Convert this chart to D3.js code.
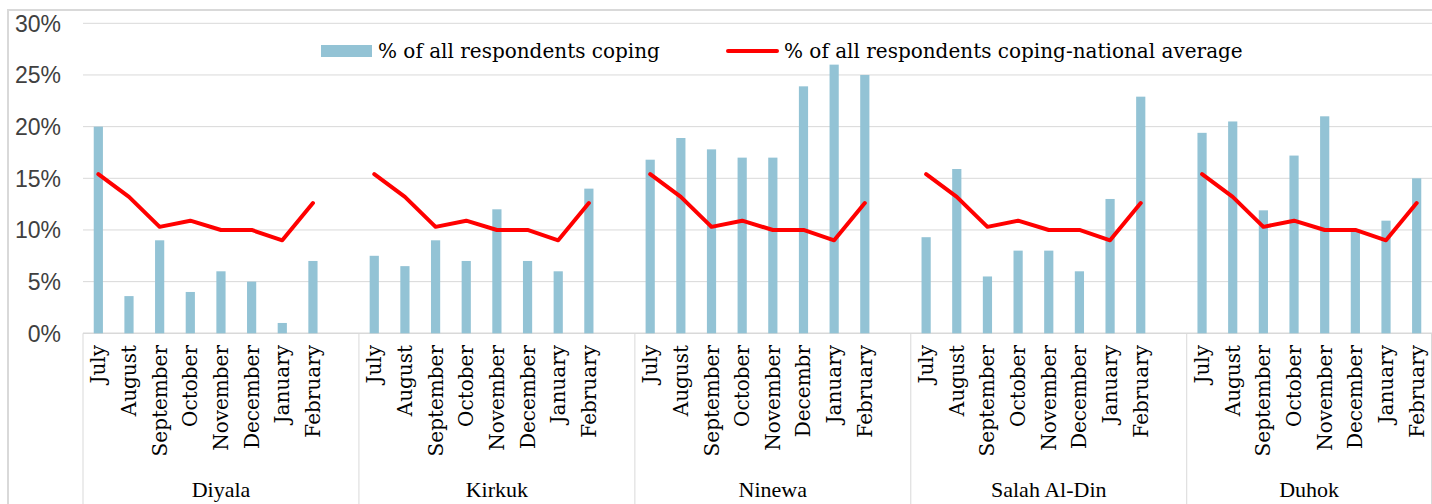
<!DOCTYPE html>
<html>
<head>
<meta charset="utf-8">
<script src="https://cdn.jsdelivr.net/npm/d3@7"></script>
<style>
  html, body { margin: 0; padding: 0; background: #fff; overflow: hidden; }
  svg { display: block; }
</style>
</head>
<body>
<div id="chart"></div>
<script>
// governorates (outer category level)
const regions = ['Diyala', 'Kirkuk', 'Ninewa', 'Salah Al-Din', 'Duhok'];

// month labels per region (Ninewa spells "Decembr" in the source)
const monthsStd = ['July', 'August', 'September', 'October', 'November', 'December', 'January', 'February'];
const monthsNinewa = ['July', 'August', 'September', 'October', 'November', 'Decembr', 'January', 'February'];
const monthLabels = [monthsStd, monthsStd, monthsNinewa, monthsStd, monthsStd];

// % of all respondents coping, per region, July..February
const diyala     = [20.0, 3.6, 9.0, 4.0, 6.0, 5.0, 1.0, 7.0];
const kirkuk     = [7.5, 6.5, 9.0, 7.0, 12.0, 7.0, 6.0, 14.0];
const ninewa     = [16.8, 18.9, 17.8, 17.0, 17.0, 23.9, 26.0, 25.0];
const salahAlDin = [9.3, 15.9, 5.5, 8.0, 8.0, 6.0, 13.0, 22.9];
const duhok      = [19.4, 20.5, 11.9, 17.2, 21.0, 10.0, 10.9, 15.0];
const coping = [diyala, kirkuk, ninewa, salahAlDin, duhok];

// national average, same for every region
const national = [15.4, 13.2, 10.3, 10.9, 10.0, 10.0, 9.0, 12.6];

const yTicks = [0, 5, 10, 15, 20, 25, 30];

const W = 1432, H = 504;
const plotLeft = 83, plotRight = 1432, plotTop = 23.3, plotBottom = 333.3;
const barColor = '#93c3d5', lineColor = '#ff0000', gridColor = '#d9d9d9';

// every region gets 8 month slots + one empty slot, except the last one
const slots = [];
regions.forEach((r, g) => {
  monthLabels[g].forEach((m, i) => slots.push(g + '|' + i));
  if (g < regions.length - 1) slots.push(g + '|gap');
});

const x = d3.scaleBand().domain(slots).range([plotLeft, plotRight]).paddingInner(0.7).paddingOuter(0.35);
const y = d3.scaleLinear().domain([0, 30]).range([plotBottom, plotTop]);

const svg = d3.select('#chart').append('svg')
  .attr('width', W)
  .attr('height', H);

// chart frame
svg.append('rect')
  .attr('x', 8).attr('y', 10)
  .attr('width', W + 20).attr('height', H + 20)
  .attr('fill', '#fff')
  .attr('stroke', gridColor)
  .attr('stroke-width', 2);

// gridlines
svg.append('g').selectAll('line')
  .data(yTicks.filter(d => d > 0))
  .enter().append('line')
  .attr('x1', plotLeft).attr('x2', plotRight)
  .attr('y1', d => y(d)).attr('y2', d => y(d))
  .attr('stroke', gridColor)
  .attr('stroke-width', 1);

// y labels
svg.append('g').selectAll('text')
  .data(yTicks)
  .enter().append('text')
  .attr('x', 61)
  .attr('y', d => y(d))
  .attr('dy', '0.36em')
  .attr('text-anchor', 'end')
  .attr('font-family', 'Liberation Sans, Arial, sans-serif')
  .attr('font-size', 23)
  .attr('fill', '#404040')
  .text(d => d + '%');

// axis line
svg.append('line')
  .attr('x1', plotLeft).attr('x2', plotRight)
  .attr('y1', plotBottom).attr('y2', plotBottom)
  .attr('stroke', gridColor)
  .attr('stroke-width', 1.5);

// region dividers
const dividers = regions.map((r, g) => x(g + '|0') - x.step() * x.paddingOuter()).concat([plotRight - 0.5]);
svg.append('g').selectAll('line')
  .data(dividers)
  .enter().append('line')
  .attr('x1', d => d).attr('x2', d => d)
  .attr('y1', plotBottom).attr('y2', H)
  .attr('stroke', gridColor)
  .attr('stroke-width', 1);

// bars
const barData = [];
regions.forEach((r, g) => coping[g].forEach((v, i) => barData.push({ key: g + '|' + i, v })));
svg.append('g').selectAll('rect')
  .data(barData)
  .enter().append('rect')
  .attr('x', d => x(d.key))
  .attr('y', d => y(d.v))
  .attr('width', x.bandwidth())
  .attr('height', d => y(0) - y(d.v))
  .attr('fill', barColor);

// national average line, broken between regions
const line = d3.line()
  .x(d => x(d.key) + x.bandwidth() / 2)
  .y(d => y(d.v));
svg.append('g').selectAll('path')
  .data(regions.map((r, g) => national.map((v, i) => ({ key: g + '|' + i, v }))))
  .enter().append('path')
  .attr('d', line)
  .attr('fill', 'none')
  .attr('stroke', lineColor)
  .attr('stroke-width', 4)
  .attr('stroke-linejoin', 'round')
  .attr('stroke-linecap', 'round');

// month labels (rotated)
const monthData = [];
regions.forEach((r, g) => monthLabels[g].forEach((m, i) => monthData.push({ key: g + '|' + i, m })));
svg.append('g').selectAll('text')
  .data(monthData)
  .enter().append('text')
  .attr('transform', d => 'translate(' + (x(d.key) + x.bandwidth() / 2 + 7) + ',' + 345 + ') rotate(-90)')
  .attr('text-anchor', 'end')
  .attr('font-family', 'DejaVu Serif, serif')
  .attr('font-size', 20)
  .attr('fill', '#000')
  .text(d => d.m);

// region labels
svg.append('g').selectAll('text')
  .data(regions)
  .enter().append('text')
  .attr('x', (d, g) => (dividers[g] + dividers[g + 1]) / 2)
  .attr('y', 497)
  .attr('text-anchor', 'middle')
  .attr('font-family', 'Liberation Serif, serif')
  .attr('font-size', 22)
  .attr('fill', '#000')
  .text(d => d);

// legend
const legend = svg.append('g')
  .attr('font-family', 'DejaVu Serif, serif')
  .attr('font-size', 20)
  .attr('fill', '#000');
legend.append('rect')
  .attr('x', 321).attr('y', 45)
  .attr('width', 51).attr('height', 12)
  .attr('fill', barColor);
legend.append('text')
  .attr('x', 378).attr('y', 58)
  .text('% of all respondents coping');
legend.append('line')
  .attr('x1', 728).attr('x2', 777)
  .attr('y1', 51).attr('y2', 51)
  .attr('stroke', lineColor)
  .attr('stroke-width', 4)
  .attr('stroke-linecap', 'round');
legend.append('text')
  .attr('x', 784).attr('y', 58)
  .text('% of all respondents coping-national average');
</script>
</body>
</html>
